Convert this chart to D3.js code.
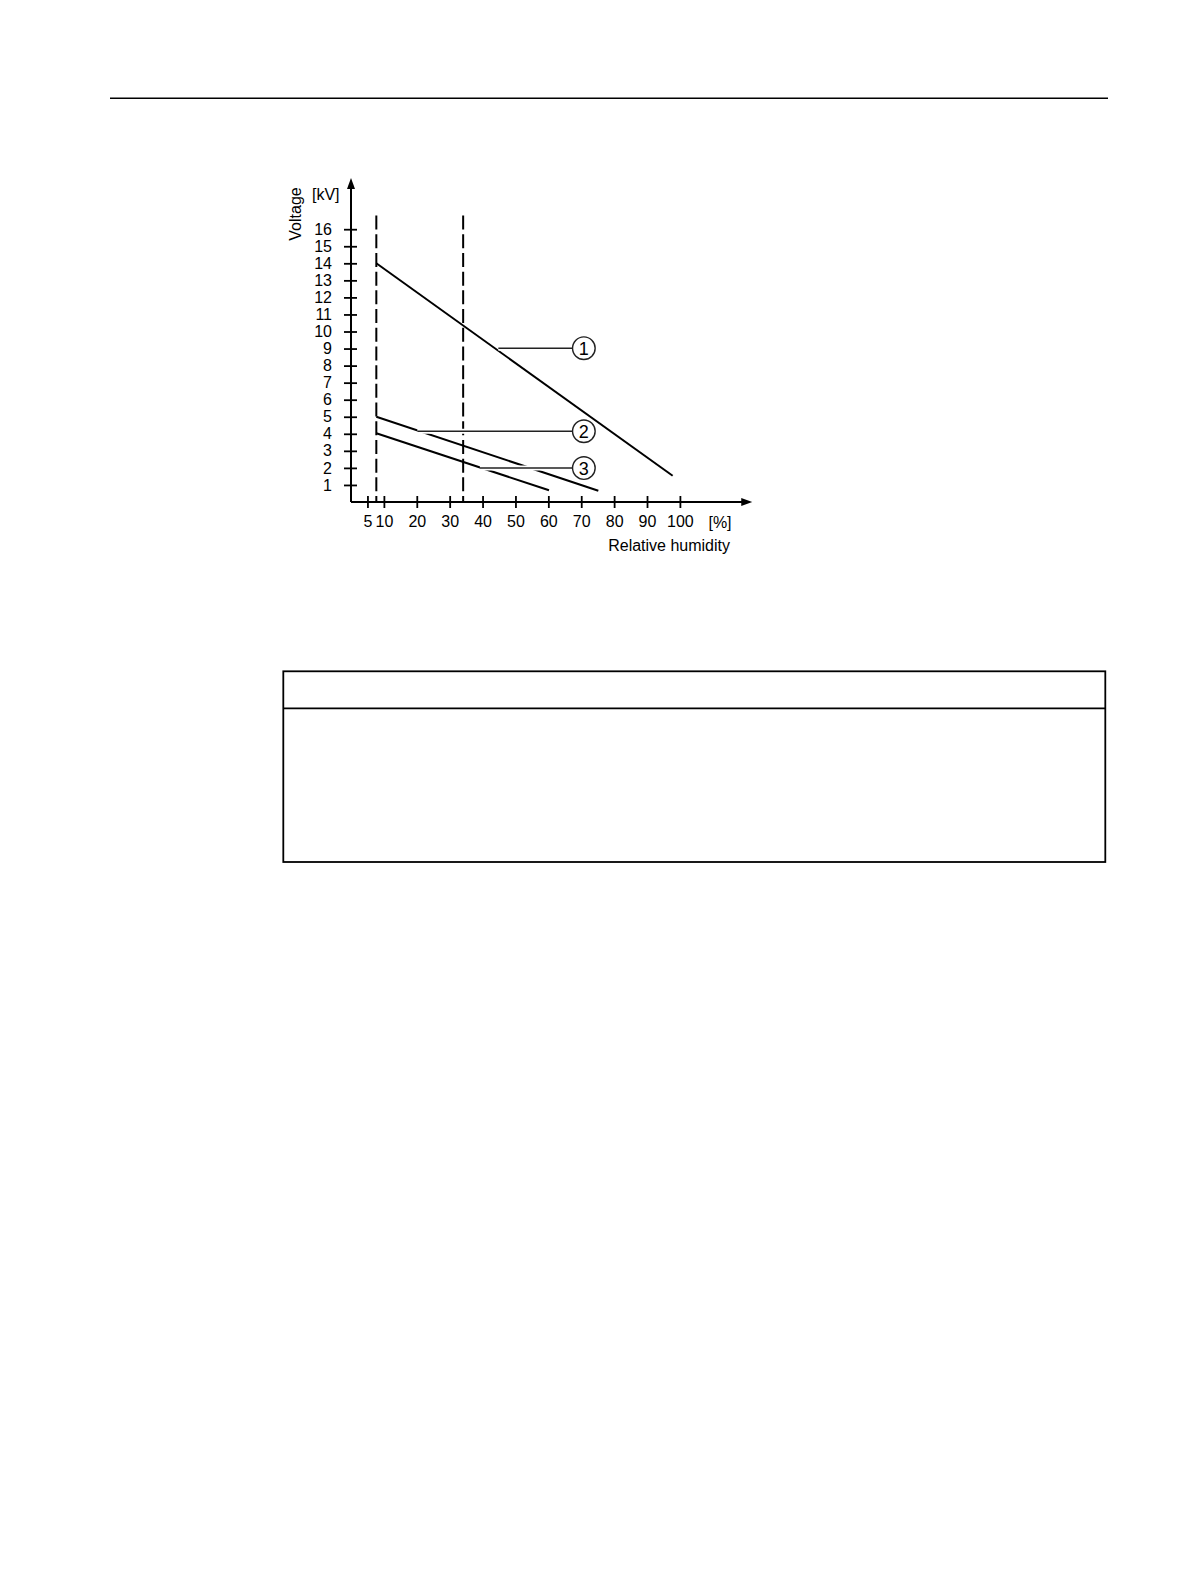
<!DOCTYPE html>
<html lang="en">
<head>
  <meta charset="UTF-8">
  <title>Voltage vs relative humidity</title>
  <style>
    body { margin: 0; background: #fff; }
    text { font-family: "Liberation Sans", Arial, sans-serif; fill: #000; }
  </style>
</head>
<body>
  <svg id="page" width="1191" height="1587"></svg>
<script src="https://cdn.jsdelivr.net/npm/d3@7"></script>
<script>
  // values
  const humidityTicks = [5, 10, 20, 30, 40, 50, 60, 70, 80, 90, 100]
  const voltageTicks = [1, 2, 3, 4, 5, 6, 7, 8, 9, 10, 11, 12, 13, 14, 15, 16]

  const curve1 = [[7.7, 14.0], [97.8, 1.54]]
  const curve2 = [[7.7, 5.0], [75.2, 0.66]]
  const curve3 = [[7.7, 4.03], [60.2, 0.69]]

  const limitRH = [7.7, 34.1]      // dashed verticals
  const limitTopKV = 16.8

  const calloutLabels = ["1", "2", "3"]
  const calloutFromRH = [44.8, 20.2, 39.2]
  const calloutKV = [9.02, 4.15, 1.99]
  const calloutCircleRH = 70.8

  const axisEndRH = 122
  const axisEndKV = 19

  let svg = d3.select("#page")

  // page furniture
  svg.append("line").attr("x1", 110).attr("x2", 1108).attr("y1", 98.3).attr("y2", 98.3)
     .attr("stroke", "#000").attr("stroke-width", 1.4)
  svg.append("rect").attr("x", 283.3).attr("y", 671.3).attr("width", 822).attr("height", 190.7)
     .attr("fill", "none").attr("stroke", "#000").attr("stroke-width", 1.8)
  svg.append("line").attr("x1", 283.3).attr("x2", 1105.3).attr("y1", 708.3).attr("y2", 708.3)
     .attr("stroke", "#000").attr("stroke-width", 1.8)

  let x = d3.scaleLinear().domain([0, 100]).range([351, 679.9])
  let y = d3.scaleLinear().domain([0, 16]).range([502, 229.2])

  let chart = svg.append("g")

  // dashed limits
  chart.selectAll(".limit")
       .data(limitRH)
       .enter()
       .append("line")
       .attr("x1", d => x(d)).attr("x2", d => x(d))
       .attr("y1", y(limitTopKV)).attr("y2", y(0))
       .attr("stroke", "#000").attr("stroke-width", 2)
       .attr("stroke-dasharray", "14 4.7")

  // curves
  let line = d3.line().x(d => x(d[0])).y(d => y(d[1]))
  chart.selectAll(".curve")
       .data([curve1, curve2, curve3])
       .enter()
       .append("path")
       .attr("d", line)
       .attr("fill", "none").attr("stroke", "#000").attr("stroke-width", 2)

  // callouts (white halo cuts the curves they cross)
  let r = 11.3
  let callouts = chart.selectAll(".callout")
       .data(calloutLabels)
       .enter()
       .append("g")

  callouts.append("line")
       .attr("x1", (d, i) => x(calloutFromRH[i])).attr("x2", x(calloutCircleRH) - r)
       .attr("y1", (d, i) => y(calloutKV[i])).attr("y2", (d, i) => y(calloutKV[i]))
       .attr("stroke", "#fff").attr("stroke-width", 5)
  callouts.append("line")
       .attr("x1", (d, i) => x(calloutFromRH[i])).attr("x2", x(calloutCircleRH) - r)
       .attr("y1", (d, i) => y(calloutKV[i])).attr("y2", (d, i) => y(calloutKV[i]))
       .attr("stroke", "#222").attr("stroke-width", 1.4)
  callouts.append("circle")
       .attr("cx", x(calloutCircleRH)).attr("cy", (d, i) => y(calloutKV[i])).attr("r", r)
       .attr("fill", "#fff").attr("stroke", "#222").attr("stroke-width", 1.4)
  callouts.append("text")
       .attr("x", x(calloutCircleRH)).attr("y", (d, i) => y(calloutKV[i]))
       .attr("dy", "0.36em").attr("text-anchor", "middle")
       .style("font-size", "18px")
       .text(d => d)

  // axes
  let xAxis = chart.append("g").attr("transform", `translate(0,${y(0)})`)
       .call(d3.axisBottom(x).tickValues(humidityTicks).tickSize(6).tickPadding(8))
  xAxis.select(".domain").remove()
  xAxis.selectAll(".tick line").attr("y1", -6).attr("stroke", "#000").attr("stroke-width", 1.8)
  xAxis.selectAll(".tick text").style("font-size", "16px").attr("fill", "#000")
       .attr("font-family", null)

  let yAxis = chart.append("g").attr("transform", `translate(${x(0)},0)`)
       .call(d3.axisLeft(y).tickValues(voltageTicks).tickSize(7).tickPadding(12))
  yAxis.select(".domain").remove()
  yAxis.selectAll(".tick line").attr("x1", 6).attr("stroke", "#000").attr("stroke-width", 1.8)
  yAxis.selectAll(".tick text").style("font-size", "16px").attr("fill", "#000")
       .attr("font-family", null)

  // axis lines with arrowheads
  chart.append("line").attr("x1", x(0)).attr("x2", x(axisEndRH) - 8)
       .attr("y1", y(0)).attr("y2", y(0)).attr("stroke", "#000").attr("stroke-width", 2)
  chart.append("line").attr("x1", x(0)).attr("x2", x(0))
       .attr("y1", y(0)).attr("y2", y(axisEndKV) + 8).attr("stroke", "#000").attr("stroke-width", 2)
  let xt = x(axisEndRH), yt = y(axisEndKV)
  chart.append("path").attr("d", `M${xt},${y(0)}L${xt - 11},${y(0) - 4}L${xt - 11},${y(0) + 4}Z`)
  chart.append("path").attr("d", `M${x(0)},${yt}L${x(0) - 4},${yt + 11}L${x(0) + 4},${yt + 11}Z`)

  // axis titles
  chart.append("text").attr("x", 720).attr("y", 527.5).attr("text-anchor", "middle")
       .style("font-size", "16px").text("[%]")
  chart.append("text").attr("x", 730).attr("y", 551).attr("text-anchor", "end")
       .style("font-size", "16px").text("Relative humidity")
  chart.append("text").attr("transform", "translate(300.5,214) rotate(-90)")
       .attr("text-anchor", "middle").style("font-size", "16px").text("Voltage")
  chart.append("text").attr("x", 312).attr("y", 199.5)
       .style("font-size", "16px").text("[kV]")
</script>
</body>
</html>
